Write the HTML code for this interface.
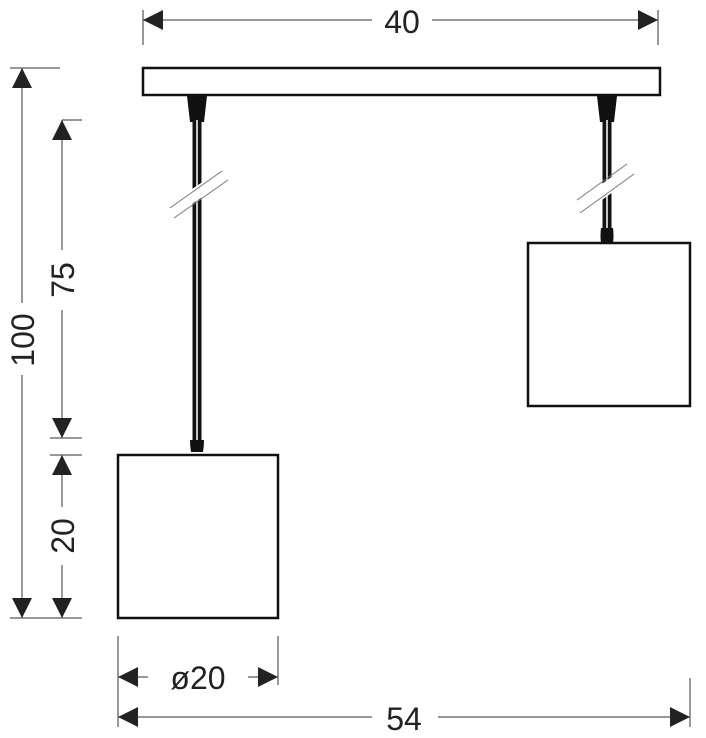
<!DOCTYPE html>
<html><head><style>
html,body{margin:0;padding:0;background:#fff;width:706px;height:738px;overflow:hidden}
svg{display:block}
text{font-family:"Liberation Sans",Arial,sans-serif;font-size:32px;fill:#222}
</style></head><body>
<svg width="706" height="738" viewBox="0 0 706 738">
<defs>
<marker id="a" viewBox="0 0 20 20" refX="20" refY="10" markerWidth="20" markerHeight="20" markerUnits="userSpaceOnUse" orient="auto-start-reverse"><path d="M0,0 L20,10 L0,20 Z" fill="#222"/></marker>
</defs>
<g stroke="#777" stroke-width="1.5" fill="none">
<line x1="143" y1="10" x2="143" y2="45"/><line x1="658" y1="10" x2="658" y2="45"/>
<line x1="143" y1="20" x2="372" y2="20" marker-start="url(#a)"/>
<line x1="432" y1="20" x2="658" y2="20" marker-end="url(#a)"/>
<line x1="10" y1="68" x2="60" y2="68"/><line x1="10" y1="618" x2="82" y2="618"/>
<line x1="22" y1="68" x2="22" y2="303" marker-start="url(#a)"/>
<line x1="22" y1="375" x2="22" y2="618" marker-end="url(#a)"/>
<line x1="62" y1="120" x2="82" y2="120"/><line x1="50" y1="438" x2="82" y2="438"/>
<line x1="62" y1="120" x2="62" y2="250" marker-start="url(#a)"/>
<line x1="62" y1="310" x2="62" y2="438" marker-end="url(#a)"/>
<line x1="50" y1="455" x2="82" y2="455"/>
<line x1="62" y1="455" x2="62" y2="507" marker-start="url(#a)"/>
<line x1="62" y1="565" x2="62" y2="618" marker-end="url(#a)"/>
<line x1="118" y1="636" x2="118" y2="727"/><line x1="278" y1="636" x2="278" y2="685"/>
<line x1="118" y1="677" x2="148" y2="677" marker-start="url(#a)"/>
<line x1="248" y1="677" x2="278" y2="677" marker-end="url(#a)"/>
<line x1="690" y1="678" x2="690" y2="727"/>
<line x1="118" y1="717" x2="372" y2="717" marker-start="url(#a)"/>
<line x1="438" y1="717" x2="690" y2="717" marker-end="url(#a)"/>
</g>
<text x="402" y="33" text-anchor="middle">40</text>
<text x="198" y="689" text-anchor="middle">ø20</text>
<text x="404" y="730" text-anchor="middle">54</text>
<text transform="translate(34,340) rotate(-90)" text-anchor="middle">100</text>
<text transform="translate(74,280) rotate(-90)" text-anchor="middle">75</text>
<text transform="translate(74,536) rotate(-90)" text-anchor="middle">20</text>
<rect x="143" y="68" width="517" height="27" fill="#fff" stroke="#111" stroke-width="2.5"/>
<path d="M187,96 L207,96 L204,122 L190,122 Z" fill="#111"/>
<rect x="192.5" y="120" width="9" height="330" fill="#111"/>
<line x1="197" y1="120" x2="197" y2="448" stroke="#fff" stroke-width="1.5"/>
<path d="M190,440 Q190,446 191,452 L203,452 Q204,446 204,440 Z" fill="#111"/>
<polygon points="168,205 228,165 228,180 168,220" fill="#fff"/>
<line x1="170" y1="208" x2="222" y2="171" stroke="#777" stroke-width="1"/>
<line x1="174" y1="218" x2="228" y2="180" stroke="#777" stroke-width="1"/>
<rect x="118" y="455" width="160" height="163" fill="#fff" stroke="#111" stroke-width="2.5"/>
<path d="M597,96 L617,96 L614,122 L600,122 Z" fill="#111"/>
<rect x="602.5" y="120" width="9" height="120" fill="#111"/>
<line x1="607" y1="120" x2="607" y2="228" stroke="#fff" stroke-width="1.5"/>
<path d="M601,228 Q600,236 601,243 L613,243 Q614,236 613,228 Z" fill="#111"/>
<polygon points="577,202 635,160 635,176 577,218" fill="#fff"/>
<line x1="577" y1="200" x2="627" y2="164" stroke="#777" stroke-width="1"/>
<line x1="580" y1="213" x2="634" y2="174" stroke="#777" stroke-width="1"/>
<rect x="528" y="243" width="162" height="163" fill="#fff" stroke="#111" stroke-width="2.5"/>
</svg>
</body></html>
